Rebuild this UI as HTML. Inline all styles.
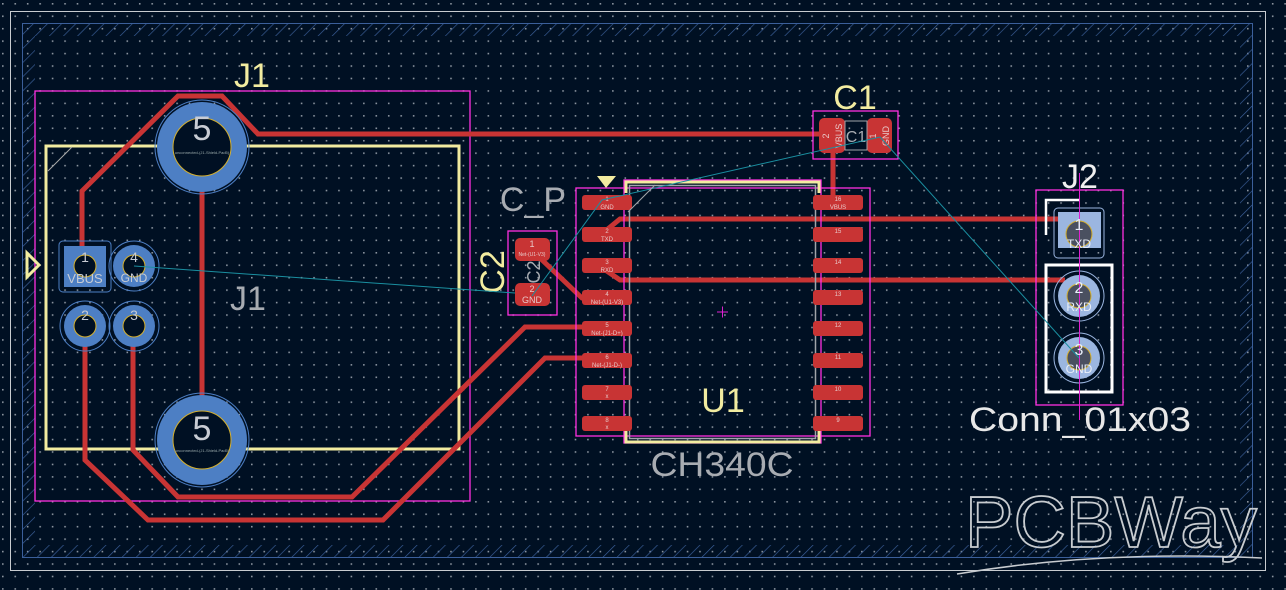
<!DOCTYPE html>
<html><head><meta charset="utf-8"><style>
html,body{margin:0;padding:0;background:#001023;}
svg{display:block}
text{font-family:"Liberation Sans",sans-serif;}
</style></head><body>
<svg width="1286" height="590" viewBox="0 0 1286 590" xmlns="http://www.w3.org/2000/svg">
<defs>
<pattern id="grid" x="2" y="3" width="12.45" height="12.45" patternUnits="userSpaceOnUse">
<rect x="0" y="0" width="1.6" height="1.6" fill="#8a939e"/>
</pattern>
<pattern id="hatch" width="10" height="10" patternUnits="userSpaceOnUse" patternTransform="rotate(45)">
<line x1="0" y1="0" x2="0" y2="10" stroke="#3b5f9a" stroke-width="1.3"/>
</pattern>
</defs>
<rect width="1286" height="590" fill="#001023"/>
<rect width="1286" height="590" fill="url(#grid)"/>
<rect x="10.5" y="11.5" width="1255" height="559" fill="none" stroke="#c8ccd0" stroke-width="1"/>
<path d="M22 23 H1253 V558 H22 Z M35 36 V545 H1240 V36 Z" fill="url(#hatch)" fill-rule="evenodd"/>
<rect x="22.5" y="23.5" width="1230" height="534" fill="none" stroke="#3b5f9a" stroke-width="1"/>

<!-- J1 -->
<rect x="35" y="91" width="435" height="410" fill="none" stroke="#ff30e0" stroke-width="1.3"/>
<rect x="46" y="146" width="413" height="303" fill="none" stroke="#f2eca0" stroke-width="3"/>
<line x1="48" y1="171" x2="72" y2="147" stroke="#aaa" stroke-width="1"/>
<polygon points="27,253 39,265 27,277" fill="none" stroke="#f2eca0" stroke-width="3"/>

<g fill="none" stroke="#c83434" stroke-width="5" stroke-linejoin="miter">
<polyline points="82,250 82,191 178,96 222,96 258,134 822,134"/>
<line x1="202" y1="128" x2="202" y2="428"/>
<polyline points="85,325 85,460 148,520 383,520 545,358 592,358"/>
<polyline points="133,325 133,450 178,497 352,497 525,327 592,327"/>
<polyline points="598,237 620,219 1080,219"/>
<polyline points="598,265 620,280 1065,280"/>
<line x1="540" y1="258" x2="583" y2="299"/>
<line x1="833" y1="145" x2="833" y2="198"/>
</g>

<g>
<circle cx="202" cy="147" r="47" fill="none" stroke="#4d7fc4" stroke-width="1"/>
<circle cx="202" cy="147" r="45" fill="#4d7fc4"/>
<circle cx="202" cy="147" r="29" fill="#001023" stroke="#d4b030" stroke-width="1"/>
<text x="202" y="140" font-size="34" fill="#c8ccd4" text-anchor="middle">5</text>
<text x="202" y="154" font-size="4" fill="#9aa" text-anchor="middle">unconnected-(J1-Shield-Pad5)</text>
<circle cx="202" cy="440" r="47" fill="none" stroke="#4d7fc4" stroke-width="1"/>
<circle cx="202" cy="440" r="45" fill="#4d7fc4"/>
<circle cx="202" cy="440" r="29" fill="#001023" stroke="#d4b030" stroke-width="1"/>
<text x="202" y="440" font-size="34" fill="#c8ccd4" text-anchor="middle">5</text>
<text x="202" y="452" font-size="4" fill="#9aa" text-anchor="middle">unconnected-(J1-Shield-Pad5)</text>
</g>
<rect x="59" y="241" width="52" height="51" rx="4" fill="none" stroke="#4d7fc4" stroke-width="1"/>
<rect x="64" y="246" width="42" height="41" fill="#4d7fc4"/>
<circle cx="85" cy="266" r="11" fill="#001023" stroke="#d4b030" stroke-width="1"/>
<text x="85" y="262" font-size="14" fill="#c8ccd4" text-anchor="middle">1</text>
<text x="85" y="283" font-size="13" fill="#c8ccd4" text-anchor="middle">VBUS</text>
<circle cx="134" cy="266" r="25" fill="none" stroke="#4d7fc4" stroke-width="1"/>
<circle cx="134" cy="266" r="21" fill="#4d7fc4"/>
<circle cx="134" cy="266" r="11" fill="#001023" stroke="#d4b030" stroke-width="1"/>
<text x="134" y="262" font-size="14" fill="#c8ccd4" text-anchor="middle">4</text>
<text x="134" y="282" font-size="12" fill="#c8ccd4" text-anchor="middle">GND</text>
<circle cx="85" cy="326" r="25" fill="none" stroke="#4d7fc4" stroke-width="1"/>
<circle cx="85" cy="326" r="21" fill="#4d7fc4"/>
<circle cx="85" cy="326" r="11" fill="#001023" stroke="#d4b030" stroke-width="1"/>
<text x="85" y="320" font-size="14" fill="#c8ccd4" text-anchor="middle">2</text>
<circle cx="134" cy="326" r="25" fill="none" stroke="#4d7fc4" stroke-width="1"/>
<circle cx="134" cy="326" r="21" fill="#4d7fc4"/>
<circle cx="134" cy="326" r="11" fill="#001023" stroke="#d4b030" stroke-width="1"/>
<text x="134" y="320" font-size="14" fill="#c8ccd4" text-anchor="middle">3</text>

<text x="252" y="87" font-size="34" fill="#f2eca0" text-anchor="middle">J1</text>
<text x="248" y="310" font-size="34" fill="#a8acb2" text-anchor="middle">J1</text>

<!-- U1 -->
<rect x="576" y="188" width="294" height="248" fill="none" stroke="#ff30e0" stroke-width="1.3"/>
<rect x="624" y="180" width="197" height="263" fill="none" stroke="#ff30e0" stroke-width="1.3"/>
<path d="M626 193 V182 H819 V193 M626 431 V442 H819 V431" fill="none" stroke="#f2eca0" stroke-width="3"/>
<rect x="629.5" y="185.5" width="186" height="253" fill="none" stroke="#a0a4aa" stroke-width="1.5"/>
<polygon points="597,176 616,176 606,188" fill="#f2eca0"/>
<g fill="#c83434">
<rect x="582" y="195" width="50" height="15" rx="3"/><rect x="582" y="227" width="50" height="15" rx="3"/>
<rect x="582" y="258" width="50" height="15" rx="3"/><rect x="582" y="290" width="50" height="15" rx="3"/>
<rect x="582" y="321" width="50" height="15" rx="3"/><rect x="582" y="353" width="50" height="15" rx="3"/>
<rect x="582" y="385" width="50" height="15" rx="3"/><rect x="582" y="416" width="50" height="15" rx="3"/>
<rect x="813" y="195" width="50" height="15" rx="3"/><rect x="813" y="227" width="50" height="15" rx="3"/>
<rect x="813" y="258" width="50" height="15" rx="3"/><rect x="813" y="290" width="50" height="15" rx="3"/>
<rect x="813" y="321" width="50" height="15" rx="3"/><rect x="813" y="353" width="50" height="15" rx="3"/>
<rect x="813" y="385" width="50" height="15" rx="3"/><rect x="813" y="416" width="50" height="15" rx="3"/>
</g>
<g font-size="6" fill="#e8c8c8" text-anchor="middle">
<text x="607" y="201">1</text><text x="607" y="209">GND</text>
<text x="607" y="233">2</text><text x="607" y="241">TXD</text>
<text x="607" y="264">3</text><text x="607" y="272">RXD</text>
<text x="607" y="296">4</text><text x="607" y="304">Net-(U1-V3)</text>
<text x="607" y="327">5</text><text x="607" y="335">Net-(J1-D+)</text>
<text x="607" y="359">6</text><text x="607" y="367">Net-(J1-D-)</text>
<text x="607" y="391">7</text><text x="607" y="398">x</text>
<text x="607" y="422">8</text><text x="607" y="429">x</text>
<text x="838" y="201">16</text><text x="838" y="209">VBUS</text>
<text x="838" y="233">15</text><text x="838" y="264">14</text><text x="838" y="296">13</text>
<text x="838" y="327">12</text><text x="838" y="359">11</text><text x="838" y="391">10</text><text x="838" y="422">9</text>
</g>
<path d="M717 312 h11 M722.5 306.5 v11" stroke="#e020d0" stroke-width="1"/>
<text x="723" y="412" font-size="34" fill="#f2eca0" text-anchor="middle">U1</text>
<text x="722" y="476" font-size="34" fill="#a8acb2" text-anchor="middle" textLength="143" lengthAdjust="spacingAndGlyphs">CH340C</text>
<text x="533" y="211" font-size="34" fill="#a8acb2" text-anchor="middle">C_P</text>

<!-- C2 -->
<rect x="508" y="231" width="49" height="84" fill="none" stroke="#ff30e0" stroke-width="1.3"/>
<rect x="515" y="238" width="35" height="23" rx="5" fill="#c83434"/>
<rect x="515" y="283" width="35" height="23" rx="5" fill="#c83434"/>
<text x="532" y="247" font-size="9" fill="#e8c8c8" text-anchor="middle">1</text>
<text x="532" y="256" font-size="5" fill="#e8c8c8" text-anchor="middle">Net-(U1-V3)</text>
<text x="532" y="292" font-size="9" fill="#e8c8c8" text-anchor="middle">2</text>
<text x="532" y="303" font-size="9" fill="#e8c8c8" text-anchor="middle">GND</text>
<text transform="translate(540,272) rotate(-90)" font-size="18" fill="#a8acb2" text-anchor="middle">C2</text>
<text transform="translate(504,272) rotate(-90)" font-size="34" fill="#f2eca0" text-anchor="middle">C2</text>

<!-- C1 -->
<rect x="813" y="111" width="85" height="48" fill="none" stroke="#ff30e0" stroke-width="1.3"/>
<rect x="819" y="118" width="26" height="35" rx="5" fill="#c83434"/>
<rect x="867" y="118" width="25" height="35" rx="5" fill="#c83434"/>
<rect x="845" y="121" width="22" height="29" fill="none" stroke="#a0a4aa" stroke-width="1"/>
<text x="856" y="142" font-size="16" fill="#a8acb2" text-anchor="middle">C1</text>
<text transform="translate(829,136) rotate(-90)" font-size="9" fill="#e8c8c8" text-anchor="middle">2</text>
<text transform="translate(842,136) rotate(-90)" font-size="9" fill="#e8c8c8" text-anchor="middle">VBUS</text>
<text transform="translate(876,136) rotate(-90)" font-size="9" fill="#e8c8c8" text-anchor="middle">1</text>
<text transform="translate(889,136) rotate(-90)" font-size="9" fill="#e8c8c8" text-anchor="middle">GND</text>
<text x="855" y="109" font-size="34" fill="#f2eca0" text-anchor="middle">C1</text>

<!-- J2 -->
<rect x="1036" y="190" width="87" height="215" fill="none" stroke="#ff30e0" stroke-width="1.3"/>
<path d="M1046 235 V200 H1080" fill="none" stroke="#fff" stroke-width="2.5"/>
<rect x="1046" y="265" width="66" height="127" fill="none" stroke="#fff" stroke-width="3"/>
<rect x="1054" y="208" width="50" height="50" rx="4" fill="none" stroke="#9bb6e0" stroke-width="1"/>
<rect x="1058" y="212" width="43" height="36" fill="#9bb6e0"/>
<circle cx="1079" cy="234" r="13" fill="#4a5060" stroke="#d4b030" stroke-width="1"/>
<circle cx="1079" cy="296" r="25" fill="none" stroke="#9bb6e0" stroke-width="1"/>
<circle cx="1079" cy="296" r="21" fill="#9bb6e0"/>
<circle cx="1079" cy="296" r="12" fill="#4a5060" stroke="#d4b030" stroke-width="1"/>
<circle cx="1079" cy="358" r="25" fill="none" stroke="#9bb6e0" stroke-width="1"/>
<circle cx="1079" cy="358" r="21" fill="#9bb6e0"/>
<circle cx="1079" cy="358" r="12" fill="#4a5060" stroke="#d4b030" stroke-width="1"/>
<line x1="1079.5" y1="173" x2="1079.5" y2="420" stroke="#e020d0" stroke-width="1"/>
<g fill="#e8eef8" text-anchor="middle">
<text x="1079" y="230" font-size="16">1</text><text x="1079" y="248" font-size="12">TXD</text>
<text x="1079" y="293" font-size="16">2</text><text x="1079" y="311" font-size="12">RXD</text>
<text x="1079" y="355" font-size="16">3</text><text x="1079" y="373" font-size="12">GND</text>
</g>
<text x="1080" y="188" font-size="34" fill="#f0f0f0" text-anchor="middle">J2</text>
<text x="1080" y="431" font-size="34" fill="#e8e8e8" text-anchor="middle" textLength="222" lengthAdjust="spacingAndGlyphs">Conn_01x03</text>

<g stroke="#1a8fa0" stroke-width="1" fill="none">
<line x1="134" y1="266" x2="515" y2="293"/>
<polyline points="532,296 602,200 880,137 1079,358"/>
</g>
<line x1="628" y1="212" x2="655" y2="185" stroke="#a0a4aa" stroke-width="1"/>

<!-- PCBWay logo -->
<text x="965" y="547" font-size="72" fill="none" stroke="#c8ccd0" stroke-width="1.8" textLength="292" lengthAdjust="spacingAndGlyphs">PCBWay</text>
<path d="M957 574 Q1100 550 1262 558" fill="none" stroke="#c8ccd0" stroke-width="1.5"/>
</svg>
</body></html>
